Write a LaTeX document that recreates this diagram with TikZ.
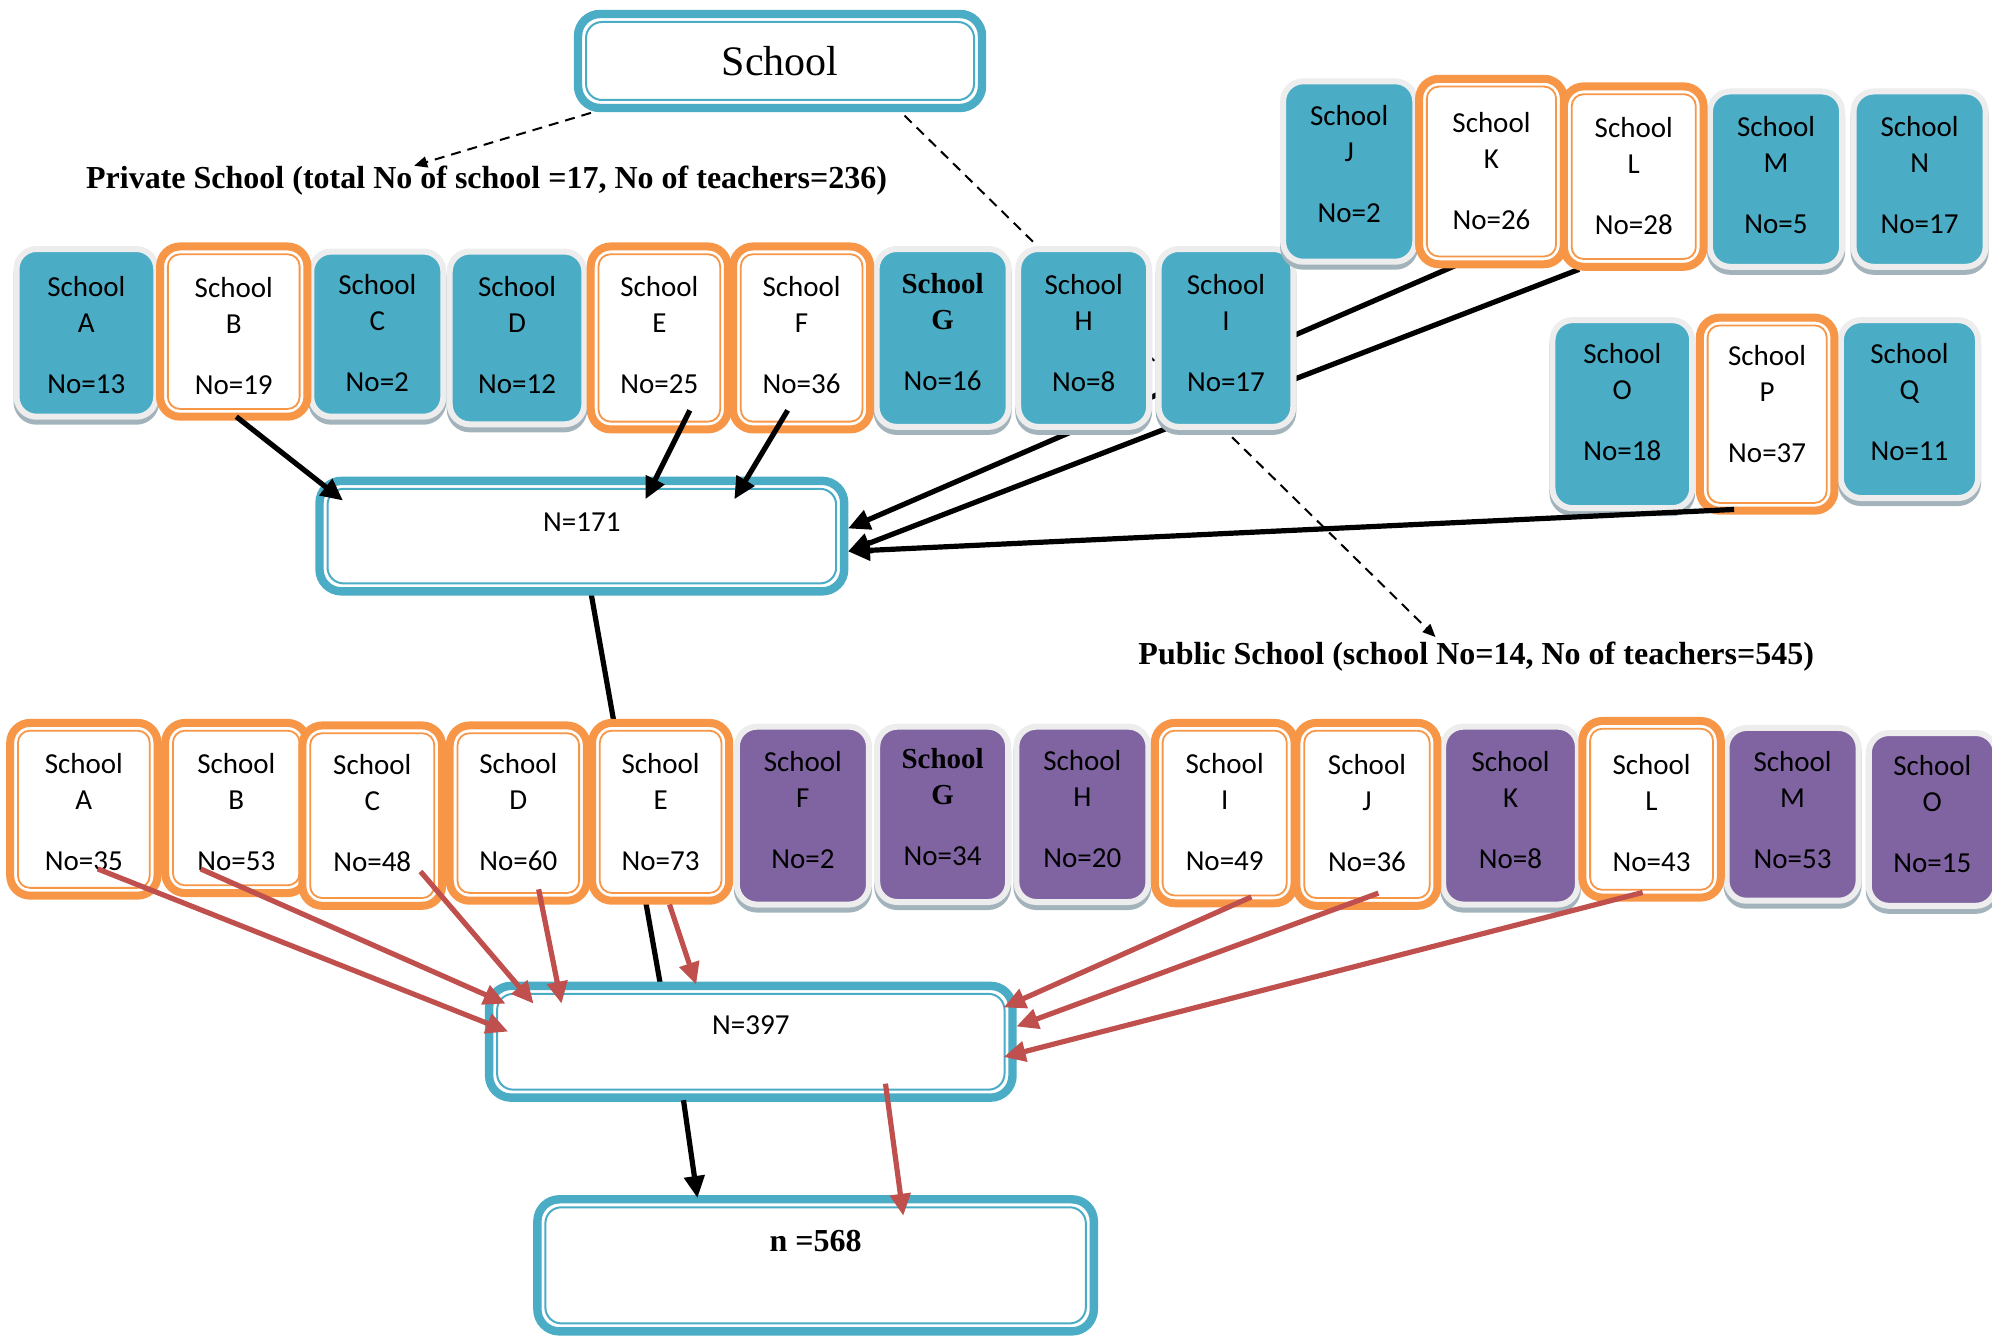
\documentclass[tikz,border=0pt]{standalone}
\usepackage{fontspec}
\setmainfont{Carlito}
\newfontfamily\tnr{Liberation Serif}
\usetikzlibrary{arrows.meta}
\definecolor{cteal}{HTML}{4BACC6}
\definecolor{corange}{HTML}{F79646}
\definecolor{cpurple}{HTML}{8064A2}
\definecolor{cgrayb}{HTML}{EDEDED}
\definecolor{cshadow}{HTML}{A3B3BC}
\definecolor{cred}{HTML}{C0504D}
\pgfdeclarelayer{bg}
\pgfsetlayers{bg,main}
\newcommand{\cardtext}[3][0pt]{\raisebox{#1}[\height][\depth]{\begin{tabular}{@{}c@{}}School\\#2\\[12.5pt]No=#3\end{tabular}}}
\newcommand{\cardtextG}[2][0pt]{\raisebox{#1}[\height][\depth]{\begin{tabular}{@{}c@{}}{\tnr\bfseries School}\\{\tnr\bfseries G}\\[12.5pt]No=#2\end{tabular}}}
\begin{document}
\begin{tikzpicture}[x=0.6352pt,y=-0.6352pt,
  every node/.style={outer sep=0pt, inner sep=0pt},
  sz/.style 2 args={minimum width=#1*0.6352pt, minimum height=#2*0.6352pt},
  card/.style={rectangle, rounded corners=10pt, align=center, font=\fontsize{14.5}{18}\selectfont},
  tealcard/.style={card, fill=cteal, draw=cgrayb, line width=3pt,
     preaction={draw=cshadow, fill=cshadow, line width=3pt, transform canvas={yshift=-2.5pt}}},
  purplecard/.style={card, fill=cpurple, draw=cgrayb, line width=3pt,
     preaction={draw=cshadow, fill=cshadow, line width=3pt, transform canvas={yshift=-2.5pt}}},
  orangecard/.style={card, fill=white, draw=corange, line width=4pt},
  orangeinner/.style={draw=corange, line width=0.9pt, rounded corners=6pt},
  bigbox/.style={rectangle, rounded corners=11pt, draw=cteal, line width=4.2pt, fill=white, align=center,
     font=\fontsize{14.5}{18}\selectfont},
  bluinner/.style={draw=cteal, line width=1pt, rounded corners=8pt},
  titlelabel/.style={font=\tnr\bfseries\fontsize{16}{19}\selectfont},
  blkarrow/.style={draw=black, line width=2.6pt, -{Triangle[length=11pt,width=10pt]}},
  blkline/.style={draw=black, line width=2.6pt},
  redarrow/.style={draw=cred, line width=2.6pt, -{Triangle[length=11pt,width=10pt]}},
  dasharrow/.style={draw=black, line width=1pt, dash pattern=on 5pt off 3.5pt, -{Triangle[length=6.5pt,width=5.5pt]}}
]
\useasboundingbox (0,0) rectangle (1568,1052);

% ---- big boxes and labels
\node[bigbox, sz={318}{74}, font=\tnr\fontsize{21}{24}\selectfont] (school) at (614,48) {School};
\node[titlelabel] (privlabel) at (383,142) {Private School (total No of school =17, No of teachers=236)};
\node[titlelabel] (publabel) at (1162,517) {Public School (school No=14, No of teachers=545)};

% ---- private schools (teal first, orange on top)
\node[tealcard, sz={110}{132}] (prA) at (68,262) {\cardtext[-2.5pt]{A}{13}};
\node[tealcard, sz={104}{130}] (prC) at (297,263) {\cardtext[-0.6pt]{C}{2}};
\node[tealcard, sz={106}{136}] (prD) at (407,266) {\cardtext{D}{12}};
\node[tealcard, sz={104}{140}] (prG) at (742,266) {\cardtextG[1.6pt]{16}};
\node[tealcard, sz={103}{140}] (prH) at (853,266) {\cardtext[1.3pt]{H}{8}};
\node[tealcard, sz={106}{140}] (prI) at (965,266) {\cardtext[1pt]{I}{17}};
\node[tealcard, sz={104}{142}] (prJ) at (1062,135) {\cardtext[2.2pt]{J}{2}};
\node[tealcard, sz={104}{138}] (prM) at (1398,141) {\cardtext[0.6pt]{M}{5}};
\node[tealcard, sz={104}{138}] (prN) at (1511,141) {\cardtext[0.6pt]{N}{17}};
\node[tealcard, sz={110}{148}] (prO) at (1277,326) {\cardtext[4.5pt]{O}{18}};
\node[tealcard, sz={108}{140}] (prQ) at (1503,322) {\cardtext[2.2pt]{Q}{11}};
\node[orangecard, sz={116}{134}] (prB) at (184,261) {\cardtext[-3.8pt]{B}{19}};
\node[orangecard, sz={108}{144}] (prE) at (519,266) {\cardtext{E}{25}};
\node[orangecard, sz={108}{144}] (prF) at (631,266) {\cardtext{F}{36}};
\node[orangecard, sz={114}{146}] (prK) at (1174,135) {\cardtext[-1pt]{K}{26}};
\node[orangecard, sz={110}{142}] (prL) at (1286,139) {\cardtext[-1.3pt]{L}{28}};
\node[orangecard, sz={106}{152}] (prP) at (1391,326) {\cardtext[3.5pt]{P}{37}};

% ---- public schools
\node[purplecard, sz={104}{140}] (puF) at (632,642) {\cardtext[1.6pt]{F}{2}};
\node[purplecard, sz={103}{138}] (puG) at (742,641) {\cardtextG[2.5pt]{34}};
\node[purplecard, sz={104}{138}] (puH) at (852,641) {\cardtext[1.3pt]{H}{20}};
\node[purplecard, sz={106}{140}] (puK) at (1189,642) {\cardtext[1.6pt]{K}{8}};
\node[purplecard, sz={104}{136}] (puM) at (1411,641) {\cardtext[0.6pt]{M}{53}};
\node[purplecard, sz={100}{136}] (puO) at (1521,645) {\cardtext[1.3pt]{O}{15}};
\node[orangecard, sz={116}{136}] (puA) at (66,637) {\cardtext[-2.9pt]{A}{35}};
\node[orangecard, sz={112}{134}] (puB) at (186,636) {\cardtext[-3.5pt]{B}{53}};
\node[orangecard, sz={110}{142}] (puC) at (293,642) {\cardtext{C}{48}};
\node[orangecard, sz={108}{138}] (puD) at (408,640) {\cardtext[-1pt]{D}{60}};
\node[orangecard, sz={108}{140}] (puE) at (520,639) {\cardtext[-1.6pt]{E}{73}};
\node[orangecard, sz={110}{142}] (puI) at (964,640) {\cardtext[-1pt]{I}{49}};
\node[orangecard, sz={111}{144}] (puJ) at (1076,641) {\cardtext[-0.6pt]{J}{36}};
\node[orangecard, sz={109}{139}] (puL) at (1300,637) {\cardtext[-3.2pt]{L}{43}};

\foreach \n in {prB,prE,prF,prK,prL,prP,puA,puB,puC,puD,puE,puI,puJ,puL}
  \draw[orangeinner] ([shift={(3.9pt,-3.9pt)}]\n.north west) rectangle ([shift={(-3.9pt,3.9pt)}]\n.south east);

% ---- totals
\node[bigbox, sz={413}{87}] (nPriv) at (458,422) {\raisebox{14pt}{N=171}};
\node[bigbox, sz={412}{88}] (nPub) at (591,820) {\raisebox{16.5pt}{N=397}};
\node[bigbox, sz={438}{104}, font=\tnr\bfseries\fontsize{16}{19}\selectfont] (nTot) at (642,996) {\raisebox{24pt}{n =568}};

\foreach \n in {school,nPriv,nPub,nTot}
  \draw[bluinner] ([shift={(4pt,-4pt)}]\n.north west) rectangle ([shift={(-4pt,4pt)}]\n.south east);

% ---- connectors behind the cards
\begin{pgfonlayer}{bg}
\draw[dasharrow] ([shift={(-136,0)}]school.south) -- ([shift={(-57,0)}]privlabel.north);
\draw[dasharrow] ([shift={(98,6)}]school.south) -- ([shift={(-32,-4)}]publabel.north);
\draw[blkarrow] ([shift={(-26,0)}]prK.south) -- ([shift={(3,-6)}]nPriv.east);
\draw[blkarrow] ([shift={(-43,2)}]prL.south) -- ([shift={(3,12)}]nPriv.east);
\draw[blkline] ([shift={(7,0)}]nPriv.south) -- ([shift={(-71,0)}]nPub.north);
\end{pgfonlayer}

% ---- connectors on top
\draw[blkarrow] ([shift={(2,0)}]prB.south) -- ([shift={(18.5,15.5)}]nPriv.north west);
\draw[blkarrow] ([shift={(24,-15)}]prE.south) -- ([shift={(50,14.5)}]nPriv.north);
\draw[blkarrow] ([shift={(-11,-15)}]prF.south) -- ([shift={(120,14.5)}]nPriv.north);
\draw[blkarrow] ([shift={(-26,-1)}]prP.south) -- ([shift={(3,12)}]nPriv.east);

\draw[redarrow] ([shift={(11,-21)}]puA.south) -- ([shift={(15,-8)}]nPub.west);
\draw[redarrow] ([shift={(-28,-19)}]puB.south) -- ([shift={(13,-30)}]nPub.west);
\draw[redarrow] ([shift={(38,-27)}]puC.south) -- ([shift={(35,14)}]nPub.north west);
\draw[redarrow] ([shift={(16,-9)}]puD.south) -- ([shift={(57,14)}]nPub.north west);
\draw[redarrow] ([shift={(7,3)}]puE.south) -- ([shift={(-43,-1)}]nPub.north);
\draw[redarrow] ([shift={(21,-5)}]puI.south) -- ([shift={(-7,-27)}]nPub.east);
\draw[redarrow] ([shift={(9,-10)}]puJ.south) -- ([shift={(3,-12)}]nPub.east);
\draw[redarrow] ([shift={(-7,-4)}]puL.south) -- ([shift={(-7,12)}]nPub.east);

\draw[blkarrow] ([shift={(-53,2)}]nPub.south) -- ([shift={(-93,-1)}]nTot.north);
\draw[redarrow] ([shift={(106,-11)}]nPub.south) -- ([shift={(69,13)}]nTot.north);
\end{tikzpicture}
\end{document}
